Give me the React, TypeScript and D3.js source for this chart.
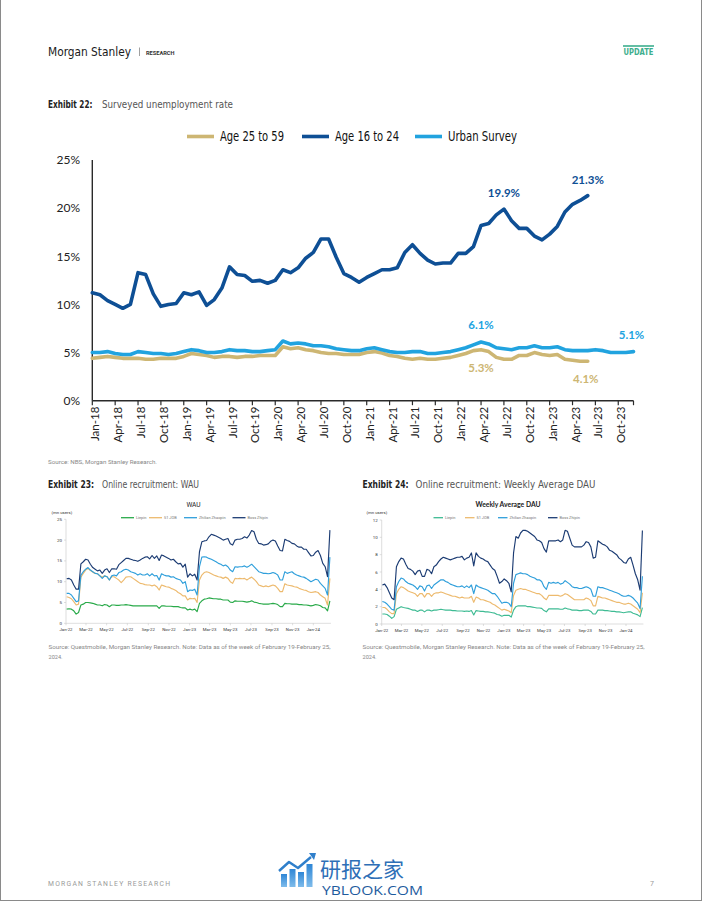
import React from "react";
import * as d3 from "d3";

// ---------- Exhibit 22 data (monthly, %) ----------
const age16to24 = [
  11.2, 11.0, 10.4, 10.0, 9.6, 10.0, 13.3, 13.1, 11.1, 9.8, 10.0, 10.1,
  11.2, 11.0, 11.3, 9.9, 10.5, 11.7, 13.9, 13.1, 13.0, 12.4, 12.5, 12.2,
  12.5, 13.6, 13.3, 13.8, 14.8, 15.4, 16.8, 16.8, 14.9, 13.2, 12.8, 12.3,
  12.8, 13.2, 13.6, 13.6, 13.8, 15.4, 16.2, 15.3, 14.6, 14.2, 14.3, 14.3,
  15.3, 15.3, 16.0, 18.2, 18.4, 19.3, 19.9, 18.7, 17.9, 17.9, 17.1, 16.7,
  17.3, 18.1, 19.6, 20.4, 20.8, 21.3,
];
const age25to59 = [
  4.4, 4.5, 4.6, 4.5, 4.4, 4.4, 4.4, 4.3, 4.3, 4.4, 4.4, 4.4,
  4.6, 4.9, 4.8, 4.7, 4.5, 4.6, 4.6, 4.5, 4.6, 4.6, 4.7, 4.7,
  4.7, 5.6, 5.4, 5.5, 5.3, 5.2, 5.0, 4.9, 4.9, 4.8, 4.8, 4.8,
  5.0, 5.1, 4.95, 4.7, 4.6, 4.4, 4.3, 4.4, 4.3, 4.3, 4.4, 4.5,
  4.7, 4.9, 5.2, 5.3, 5.1, 4.5, 4.3, 4.3, 4.7, 4.7, 5.0, 4.8,
  4.7, 4.8, 4.3, 4.2, 4.1, 4.1,
];
const urbanSurvey = [
  5.0, 5.0, 5.1, 4.9, 4.8, 4.8, 5.1, 5.0, 4.9, 4.9, 4.8, 4.9,
  5.1, 5.3, 5.2, 5.0, 5.0, 5.1, 5.3, 5.2, 5.2, 5.1, 5.1, 5.2,
  5.3, 6.2, 5.9, 6.0, 5.9, 5.7, 5.7, 5.6, 5.4, 5.3, 5.2, 5.2,
  5.4, 5.5, 5.3, 5.1, 5.0, 5.0, 5.1, 5.1, 4.9, 4.9, 5.0, 5.1,
  5.3, 5.5, 5.8, 6.1, 5.9, 5.5, 5.4, 5.3, 5.5, 5.5, 5.7, 5.5,
  5.5, 5.6, 5.3, 5.2, 5.2, 5.2, 5.3, 5.2, 5.0, 5.0, 5.0, 5.1,
];
const yTicksMain = [0, 5, 10, 15, 20, 25];
const mainStart = new Date(2018, 0, 1);
const mainEnd = new Date(2024, 0, 1);

// ---------- Exhibit 23 (WAU, mn users, weekly from 3 Jan 2022) ----------
const wauLiepin = [
  3.4, 3.5, 3.4, 3.0, 2.2, 2.6, 4.4, 4.6, 5.0, 5.0,
  4.9, 4.8, 4.6, 4.4, 4.4, 4.2, 4.5, 4.4, 4.0, 4.4,
  4.4, 4.3, 4.3, 4.4, 4.4, 4.5, 4.4, 4.3, 4.2, 4.2,
  4.2, 4.2, 4.2, 4.2, 4.2, 4.2, 4.2, 4.2, 4.2, 3.6,
  4.2, 4.2, 4.1, 4.1, 4.1, 4.0, 4.0, 4.0, 3.8, 3.7,
  3.7, 3.2, 3.4, 3.2, 3.4, 2.8, 4.8, 5.4, 5.8, 5.9,
  6.1, 6.0, 5.9, 5.9, 5.8, 5.8, 5.6, 5.6, 5.6, 5.1,
  5.0, 5.4, 5.3, 5.3, 5.3, 5.2, 5.1, 5.2, 5.4, 5.1,
  5.0, 4.8, 4.7, 4.6, 4.6, 4.6, 4.7, 4.8, 4.7, 4.5,
  4.0, 4.0, 4.8, 4.7, 4.7, 4.6, 4.6, 4.6, 4.5, 4.5,
  4.4, 4.4, 4.3, 4.2, 4.3, 4.5, 4.4, 4.2, 3.8, 3.7,
  3.0, 5.4,
];
const wau51Job = [
  6.4, 6.2, 5.9, 5.2, 4.4, 4.6, 11.1, 12.0, 12.8, 13.2,
  12.7, 12.3, 12.0, 11.9, 11.4, 11.1, 11.4, 11.2, 10.4, 11.2,
  11.2, 10.8, 10.4, 9.8, 10.4, 11.1, 11.2, 11.2, 10.8, 10.4,
  10.0, 9.6, 9.5, 9.3, 9.2, 9.2, 9.0, 9.2, 8.8, 8.0,
  9.2, 9.0, 8.8, 8.7, 8.4, 8.2, 7.9, 7.4, 7.1, 6.6,
  6.6, 5.6, 6.0, 5.9, 6.0, 5.0, 10.4, 11.6, 12.2, 12.4,
  12.2, 11.9, 11.6, 11.4, 11.2, 11.1, 10.8, 11.1, 10.8, 10.0,
  9.6, 10.8, 10.7, 10.8, 10.7, 10.8, 10.4, 10.8, 11.1, 10.6,
  10.0, 9.2, 9.0, 8.8, 9.0, 8.8, 9.0, 9.2, 9.0, 8.4,
  7.6, 7.6, 9.5, 9.2, 9.1, 9.0, 8.8, 8.7, 8.4, 8.2,
  8.0, 7.9, 7.6, 7.4, 7.5, 7.6, 7.4, 6.8, 6.4, 6.0,
  4.4, 10.8,
];
const wauZhilian = [
  7.2, 7.2, 6.8, 6.0, 5.2, 5.4, 11.6, 12.4, 13.0, 13.4,
  12.8, 12.4, 12.0, 11.9, 11.4, 10.8, 11.4, 11.2, 10.4, 11.4,
  11.6, 11.4, 12.2, 12.4, 12.8, 13.0, 12.8, 12.4, 12.2, 12.0,
  11.6, 11.9, 11.6, 11.6, 11.9, 11.4, 11.9, 11.4, 11.5, 10.4,
  11.9, 11.6, 11.4, 11.4, 11.1, 11.2, 10.8, 10.6, 10.4, 9.6,
  10.0, 7.6, 8.0, 7.9, 8.2, 6.8, 13.6, 15.9, 16.0, 15.9,
  15.6, 15.4, 15.1, 14.8, 14.4, 14.2, 13.8, 14.0, 13.6, 12.8,
  12.4, 13.6, 13.5, 13.6, 13.6, 13.8, 13.5, 13.8, 14.2, 13.6,
  13.0, 12.4, 12.2, 12.0, 12.0, 11.9, 12.0, 12.2, 12.0, 11.6,
  10.4, 10.4, 12.4, 12.0, 12.2, 12.4, 11.9, 11.6, 11.4, 11.2,
  11.1, 10.8, 10.4, 10.0, 10.3, 10.6, 10.4, 9.6, 9.0, 8.4,
  6.8, 15.9,
];
const wauBoss = [
  10.7, 10.8, 10.4, 9.2, 8.2, 8.2, 14.3, 14.8, 15.4, 15.2,
  14.2, 13.4, 13.0, 12.6, 12.8, 12.0, 12.8, 13.1, 12.2, 13.1,
  13.1, 13.0, 14.1, 14.6, 15.1, 15.6, 15.6, 15.4, 15.2, 15.1,
  14.9, 15.2, 15.6, 15.9, 16.0, 15.5, 16.3, 15.6, 16.2, 15.1,
  16.4, 16.2, 15.9, 15.6, 15.2, 15.4, 14.8, 14.3, 14.4, 13.5,
  14.2, 11.1, 11.9, 11.4, 11.8, 10.4, 17.2, 19.6, 19.8, 19.9,
  20.8, 21.4, 21.2, 21.0, 20.7, 20.4, 20.0, 20.2, 20.4, 19.1,
  18.8, 20.0, 20.2, 20.2, 20.4, 20.8, 20.5, 21.2, 22.3, 22.0,
  20.2, 19.2, 19.1, 18.8, 18.9, 19.1, 19.7, 20.0, 19.8, 18.6,
  17.5, 17.4, 20.2, 19.9, 19.7, 19.2, 19.1, 18.6, 18.3, 18.3,
  17.8, 17.8, 17.0, 16.2, 16.3, 17.1, 17.5, 16.3, 14.4, 13.6,
  11.2, 22.4,
];

// ---------- Exhibit 24 (Weekly average DAU, mn users) ----------
const dauLiepin = [
  1.15, 1.15, 1.1, 0.9, 0.65, 0.85, 1.7, 1.85, 2.0, 1.9,
  1.85, 1.8, 1.7, 1.6, 1.6, 1.45, 1.6, 1.6, 1.4, 1.6,
  1.6, 1.5, 1.6, 1.6, 1.65, 1.7, 1.65, 1.6, 1.6, 1.6,
  1.55, 1.55, 1.5, 1.5, 1.5, 1.45, 1.5, 1.45, 1.55, 1.05,
  1.55, 1.5, 1.45, 1.45, 1.4, 1.4, 1.35, 1.3, 1.25, 1.1,
  1.05, 0.9, 1.0, 1.0, 1.0, 0.8, 1.6, 2.0, 2.1, 2.1,
  2.1, 2.1, 2.0, 2.0, 1.95, 1.9, 1.85, 1.85, 1.8, 1.55,
  1.4, 1.75, 1.75, 1.75, 1.75, 1.75, 1.7, 1.7, 1.85, 1.75,
  1.7, 1.6, 1.6, 1.6, 1.55, 1.55, 1.6, 1.6, 1.6, 1.45,
  1.15, 1.15, 1.6, 1.6, 1.6, 1.55, 1.55, 1.5, 1.45, 1.45,
  1.4, 1.4, 1.35, 1.3, 1.35, 1.4, 1.4, 1.25, 1.15, 1.05,
  0.85, 1.9,
];
const dau51Job = [
  1.9, 1.9, 1.7, 1.4, 1.2, 1.2, 3.5, 4.0, 4.3, 4.2,
  4.0, 3.8, 3.7, 3.6, 3.5, 3.2, 3.5, 3.5, 3.1, 3.5,
  3.5, 3.2, 3.5, 3.6, 3.6, 3.7, 3.6, 3.5, 3.4, 3.3,
  3.2, 3.2, 3.1, 3.0, 3.1, 3.0, 3.0, 3.0, 3.2, 2.5,
  3.1, 3.0, 2.8, 2.8, 2.7, 2.6, 2.5, 2.3, 2.2, 2.0,
  1.8, 1.6, 1.7, 1.6, 1.5, 1.3, 3.3, 3.9, 4.0, 4.1,
  4.0, 4.0, 3.9, 3.8, 3.7, 3.6, 3.5, 3.5, 3.3, 3.0,
  2.8, 3.3, 3.3, 3.3, 3.3, 3.3, 3.2, 3.3, 3.5, 3.4,
  3.2, 3.0, 2.8, 2.8, 2.8, 2.8, 2.8, 3.0, 2.9, 2.7,
  2.1, 2.1, 3.2, 3.1, 3.0, 3.0, 2.9, 2.8, 2.7, 2.6,
  2.5, 2.5, 2.4, 2.3, 2.3, 2.4, 2.3, 2.1, 1.9, 1.7,
  1.3, 3.6,
];
const dauZhilian = [
  2.6, 2.5, 2.3, 2.0, 1.7, 1.6, 4.3, 4.9, 5.3, 5.2,
  4.9, 4.7, 4.6, 4.5, 4.3, 4.0, 4.4, 4.3, 3.8, 4.4,
  4.5, 4.1, 4.5, 4.7, 4.9, 5.1, 5.1, 4.9, 4.8, 4.6,
  4.5, 4.4, 4.3, 4.3, 4.4, 4.2, 4.4, 4.2, 4.5, 3.5,
  4.5, 4.3, 4.2, 4.1, 4.0, 3.9, 3.7, 3.5, 3.5, 3.2,
  2.8, 2.4, 2.5, 2.5, 2.4, 2.0, 4.7, 5.7, 5.8, 5.9,
  5.8, 5.8, 5.7, 5.5, 5.4, 5.3, 5.1, 5.1, 4.9, 4.3,
  4.0, 4.8, 4.7, 4.8, 4.7, 4.8, 4.6, 4.7, 5.0, 4.8,
  4.6, 4.3, 4.2, 4.2, 4.1, 4.1, 4.2, 4.3, 4.2, 4.0,
  3.2, 3.2, 4.3, 4.2, 4.2, 4.1, 4.0, 3.9, 3.8, 3.7,
  3.6, 3.5, 3.3, 3.2, 3.2, 3.3, 3.2, 3.0, 2.7, 2.4,
  1.8, 5.5,
];
const dauBoss = [
  4.5, 4.6, 4.2, 3.6, 3.0, 2.8, 6.6, 7.2, 7.6, 7.5,
  6.9, 6.4, 6.3, 6.1, 5.7, 6.1, 6.2, 5.5, 5.5, 6.3,
  6.2, 5.8, 6.6, 6.8, 7.2, 7.5, 7.7, 7.6, 7.5, 7.4,
  7.5, 7.6, 7.7, 7.7, 7.8, 7.4, 7.6, 7.7, 8.2, 6.7,
  8.2, 7.8, 7.6, 7.5, 7.3, 7.2, 6.8, 6.4, 6.2, 5.5,
  4.7, 4.9, 5.2, 5.0, 4.7, 3.7, 8.2, 10.1, 9.9, 10.5,
  10.8, 10.8, 10.7, 10.5, 10.3, 10.1, 9.7, 9.6, 9.4, 8.7,
  8.3, 9.6, 9.6, 9.6, 9.6, 9.7, 9.5, 9.7, 10.8, 10.7,
  9.9, 9.1, 8.9, 8.9, 8.9, 8.9, 9.1, 9.5, 9.4, 8.9,
  7.6, 7.7, 9.6, 9.4, 9.2, 9.1, 8.9, 8.5, 8.4, 8.2,
  8.0, 7.6, 7.4, 7.1, 7.0, 7.5, 7.7, 6.8, 5.8, 5.1,
  3.9, 10.8,
];
const platformNames = ["Liepin", "51 JOB", "Zhilian Zhaopin", "Boss Zhipin"];
const weekStart = new Date(2022, 0, 3);

// ---------- styling ----------
const NAVY = "#0E4F95";
const SKY = "#21A3DF";
const GOLD = "#CDB673";
const NUM_FONT = "Lato, 'Open Sans', sans-serif";
const NARROW = "'Liberation Sans Narrow', 'DejaVu Sans Condensed', Roboto, sans-serif";
const SMALL_FONT = "Roboto, 'Open Sans', sans-serif";

const fmtMonth = d3.timeFormat("%b-%y");

function MainChart() {
  const months = d3.timeMonth.range(mainStart, mainEnd);
  const x = d3.scaleLinear().domain([0, months.length - 1]).range([92.3, 633.5]);
  const y = d3.scaleLinear().domain([0, 25]).range([400.7, 160]);
  const line = d3
    .line<number>()
    .x((_, i) => x(i))
    .y((d) => y(d))
    .curve(d3.curveLinear);
  const tickIdx = months.map((_, i) => i).filter((i) => i % 3 === 0);
  const last = months.length - 1;

  const series = [
    { data: age25to59, color: GOLD },
    { data: urbanSurvey, color: SKY },
    { data: age16to24, color: NAVY },
  ];

  const labels = [
    { text: "19.9%", i: 54, v: age16to24[54], dy: -12, color: NAVY },
    { text: "21.3%", i: 65, v: age16to24[65], dy: -12, color: NAVY },
    { text: "6.1%", i: 51, v: urbanSurvey[51], dy: -13, color: SKY },
    { text: "5.1%", i: 71, v: urbanSurvey[71], dy: -13, dx: -2, color: SKY },
    { text: "5.3%", i: 51, v: age25to59[51], dy: 22, color: GOLD },
    { text: "4.1%", i: 65, v: age25to59[65], dy: 22, dx: -2, color: GOLD },
  ];

  const legend = [
    { name: "Age 25 to 59", color: GOLD, x: 187, w: 64 },
    { name: "Age 16 to 24", color: NAVY, x: 302, w: 64 },
    { name: "Urban Survey", color: SKY, x: 415, w: 69 },
  ];

  return (
    <g>
      {legend.map((l) => (
        <g key={l.name}>
          <line x1={l.x} x2={l.x + 27} y1={136.5} y2={136.5} stroke={l.color} strokeWidth={3.6} />
          <text
            x={l.x + 33}
            y={141}
            fontFamily={NARROW}
            fontSize={13.5}
            fill="#111"
            textLength={l.w}
            lengthAdjust="spacingAndGlyphs"
          >
            {l.name}
          </text>
        </g>
      ))}
      {yTicksMain.map((t) => (
        <text key={t} x={80} y={y(t)} dy="0.36em" textAnchor="end" fontFamily={NUM_FONT} fontSize={12} fill="#222">
          {t}%
        </text>
      ))}
      <line x1={x(0)} x2={x(0)} y1={y(25)} y2={y(0)} stroke="#2a2a2a" strokeWidth={1.4} />
      <line x1={x(0)} x2={x(last)} y1={y(0)} y2={y(0)} stroke="#2a2a2a" strokeWidth={1.4} />
      {[...tickIdx, last].map((i) => (
        <line key={"t" + i} x1={x(i)} x2={x(i)} y1={y(0)} y2={y(0) + 4.5} stroke="#2a2a2a" strokeWidth={1.2} />
      ))}
      {tickIdx.map((i) => (
        <text
          key={"l" + i}
          transform={`translate(${x(i) + 3},${y(0) + 6}) rotate(-90)`}
          dy="0.35em"
          textAnchor="end"
          fontFamily={NUM_FONT}
          fontSize={11.5}
          fill="#222"
        >
          {fmtMonth(months[i])}
        </text>
      ))}
      {series.map((s, k) => (
        <path
          key={k}
          d={line(s.data) || ""}
          fill="none"
          stroke={s.color}
          strokeWidth={3.6}
          strokeLinejoin="round"
          strokeLinecap="round"
        />
      ))}
      {labels.map((l) => (
        <text
          key={l.text + l.i}
          x={x(l.i) + (l.dx || 0)}
          y={y(l.v) + l.dy}
          textAnchor="middle"
          fontFamily={NUM_FONT}
          fontWeight={700}
          fontSize={11.5}
          fill={l.color}
        >
          {l.text}
        </text>
      ))}
    </g>
  );
}

type SmallCfg = {
  x0: number;
  x1: number;
  yT: number;
  yB: number;
  yMax: number;
  yStep: number;
  title: string;
  titleX: number;
  titleBold: boolean;
  series: number[][];
  colors: string[];
  legendX: number[];
  legendLen: number;
  unitX: number;
};

function SmallChart({ c }: { c: SmallCfg }) {
  const x = d3.scaleTime().domain([new Date(2022, 0, 1), new Date(2024, 0, 1)]).range([c.x0, c.x1]);
  const y = d3.scaleLinear().domain([0, c.yMax]).range([c.yB, c.yT]);
  const n = c.series[0].length;
  const dates = d3.range(n).map((i) => d3.timeDay.offset(weekStart, 7 * i));
  const line = d3
    .line<number>()
    .x((_, i) => x(dates[i]))
    .y((d) => y(d));
  const ticks = d3.timeMonth.every(2)!.range(new Date(2022, 0, 1), new Date(2024, 0, 2));
  const yTicks = d3.range(0, c.yMax + 0.001, c.yStep);
  const xEnd = x(dates[n - 1]) + 1;
  return (
    <g>
      <text x={c.titleX} y={506.5} textAnchor="middle" fontFamily={c.titleBold ? NUM_FONT : SMALL_FONT} fontWeight={c.titleBold ? 700 : 400} fontSize={c.titleBold ? 6.8 : 6.6} fill="#222">
        {c.title}
      </text>
      <text x={c.unitX} y={513.8} fontFamily={SMALL_FONT} fontSize={4.3} fill="#333">
        (mn users)
      </text>
      {platformNames.map((name, k) => (
        <g key={name}>
          <line x1={c.legendX[k]} x2={c.legendX[k] + c.legendLen} y1={517.7} y2={517.7} stroke={c.colors[k]} strokeWidth={1.3} />
          <text x={c.legendX[k] + c.legendLen + 2} y={519.1} fontFamily={SMALL_FONT} fontSize={3.9} fill="#777">
            {name}
          </text>
        </g>
      ))}
      <line x1={c.x0} x2={c.x0} y1={c.yT} y2={c.yB} stroke="#c8c8c8" strokeWidth={0.6} />
      <line x1={c.x0} x2={xEnd} y1={c.yB} y2={c.yB} stroke="#c8c8c8" strokeWidth={0.6} />
      {yTicks.map((t) => (
        <g key={t}>
          <line x1={c.x0 - 2} x2={c.x0} y1={y(t)} y2={y(t)} stroke="#c8c8c8" strokeWidth={0.6} />
          <text x={c.x0 - 4} y={y(t)} dy="0.35em" textAnchor="end" fontFamily={SMALL_FONT} fontSize={4.4} fill="#333">
            {t}
          </text>
        </g>
      ))}
      {ticks.map((t) => (
        <g key={+t}>
          <line x1={x(t)} x2={x(t)} y1={c.yB} y2={c.yB + 2} stroke="#c8c8c8" strokeWidth={0.6} />
          <text x={x(t)} y={c.yB + 8} textAnchor="middle" fontFamily={SMALL_FONT} fontSize={4.3} fill="#333">
            {fmtMonth(t)}
          </text>
        </g>
      ))}
      {c.series.map((s, k) => (
        <path key={k} d={line(s) || ""} fill="none" stroke={c.colors[k]} strokeWidth={1.15} strokeLinejoin="round" />
      ))}
    </g>
  );
}

function Logo() {
  const bars = [
    { x: 281, top: 874 },
    { x: 289.5, top: 869 },
    { x: 298, top: 872 },
    { x: 306.5, top: 864 },
  ];
  return (
    <g>
      <defs>
        <linearGradient id="barg" x1="0" x2="0" y1="0" y2="1">
          <stop offset="0" stopColor="#2E86D6" />
          <stop offset="1" stopColor="#7FBCEB" />
        </linearGradient>
      </defs>
      {bars.map((b) => (
        <rect key={b.x} x={b.x} y={b.top} width={6} height={887 - b.top} fill="url(#barg)" />
      ))}
      <polyline points="279,871 289,862 298,868 311,857" fill="none" stroke="#2F7FCB" strokeWidth={2.4} strokeLinejoin="round" />
      <polygon points="309,853 316,853 314,860" fill="#2F7FCB" />
      <text x={320} y={877} fontFamily="'Noto Sans CJK SC', sans-serif" fontSize={21} fill="#2E6FB7">
        研报之家
      </text>
      <text x={322} y={895} fontFamily="'Open Sans', 'DejaVu Sans', sans-serif" fontSize={12.5} fill="#1E5C9E" textLength={101} lengthAdjust="spacingAndGlyphs">
        YBLOOK.COM
      </text>
    </g>
  );
}

export default function App() {
  const left: SmallCfg = {
    x0: 66,
    x1: 313.3,
    yT: 519.3,
    yB: 623.3,
    yMax: 25,
    yStep: 5,
    title: "WAU",
    titleX: 193.5,
    titleBold: false,
    series: [wauLiepin, wau51Job, wauZhilian, wauBoss],
    colors: ["#2AAA4A", "#EDBA6E", "#2F9FDB", "#1C3C73"],
    legendX: [121, 149, 184, 232.5],
    legendLen: 13,
    unitX: 51.5,
  };
  const right: SmallCfg = {
    x0: 381.7,
    x1: 626,
    yT: 520,
    yB: 624,
    yMax: 12,
    yStep: 2,
    title: "Weekly Average DAU",
    titleX: 508,
    titleBold: true,
    series: [dauLiepin, dau51Job, dauZhilian, dauBoss],
    colors: ["#3EBB93", "#EDBA6E", "#2F9FDB", "#1C3C73"],
    legendX: [433.5, 465, 498, 548],
    legendLen: 9.5,
    unitX: 366.5,
  };
  const src2 = "Source: Questmobile, Morgan Stanley Research. Note: Data as of the week of February 19-February 25,";
  return (
    <svg
      width={702}
      height={907}
      viewBox="0 0 702 907"
      style={{ position: "absolute", left: 0, top: 0, background: "#fff" }}
    >
      <rect x={0} y={0} width={702} height={907} fill="#fff" />
      <rect x={0.5} y={-2} width={701} height={902.5} fill="none" stroke="#8a8a8a" strokeWidth={1} />

      {/* header */}
      <text x={48} y={56} fontFamily={NARROW} fontSize={13} fill="#1a1a1a" textLength={83} lengthAdjust="spacingAndGlyphs">
        Morgan Stanley
      </text>
      <line x1={139.5} x2={139.5} y1={47.5} y2={56} stroke="#777" strokeWidth={0.7} />
      <text x={146} y={54.5} fontFamily={SMALL_FONT} fontWeight={700} fontSize={5} fill="#333" textLength={28.5} lengthAdjust="spacingAndGlyphs">
        RESEARCH
      </text>
      <line x1={623} x2={654} y1={46} y2={46} stroke="#3DAE8D" strokeWidth={1.6} />
      <text x={623.5} y={55} fontFamily={NARROW} fontWeight={700} fontSize={8} fill="#3DAE8D" textLength={30} lengthAdjust="spacingAndGlyphs">
        UPDATE
      </text>

      {/* exhibit 22 */}
      <text x={48} y={108} fontFamily={NARROW} fontWeight={700} fontSize={10.5} fill="#222" textLength={44.5} lengthAdjust="spacingAndGlyphs">
        Exhibit 22:
      </text>
      <text x={102} y={108} fontFamily={NARROW} fontSize={10.5} fill="#555" textLength={131} lengthAdjust="spacingAndGlyphs">
        Surveyed unemployment rate
      </text>
      <MainChart />
      <text x={48} y={463.5} fontFamily={SMALL_FONT} fontSize={5.6} fill="#888" textLength={109} lengthAdjust="spacingAndGlyphs">
        Source: NBS, Morgan Stanley Research.
      </text>

      {/* exhibits 23 / 24 */}
      <text x={48} y={488} fontFamily={NARROW} fontWeight={700} fontSize={10.5} fill="#222" textLength={46} lengthAdjust="spacingAndGlyphs">
        Exhibit 23:
      </text>
      <text x={102} y={488} fontFamily={NARROW} fontSize={10.5} fill="#555" textLength={97} lengthAdjust="spacingAndGlyphs">
        Online recruitment: WAU
      </text>
      <text x={362.5} y={488} fontFamily={NARROW} fontWeight={700} fontSize={10.5} fill="#222" textLength={46} lengthAdjust="spacingAndGlyphs">
        Exhibit 24:
      </text>
      <text x={415.5} y={488} fontFamily={NARROW} fontSize={10.5} fill="#555" textLength={180} lengthAdjust="spacingAndGlyphs">
        Online recruitment: Weekly Average DAU
      </text>
      <SmallChart c={left} />
      <SmallChart c={right} />
      {[48.5, 362.5].map((sx) => (
        <g key={sx}>
          <text x={sx} y={648.5} fontFamily={SMALL_FONT} fontSize={5.6} fill="#888" textLength={282} lengthAdjust="spacingAndGlyphs">
            {src2}
          </text>
          <text x={sx} y={658.5} fontFamily={SMALL_FONT} fontSize={5.6} fill="#888">
            2024.
          </text>
        </g>
      ))}

      {/* footer */}
      <text x={48} y={885.5} fontFamily={SMALL_FONT} fontSize={6.8} fill="#9a9a9a" textLength={122} lengthAdjust="spacing">
        MORGAN STANLEY RESEARCH
      </text>
      <text x={650} y={885.5} fontFamily={SMALL_FONT} fontSize={7} fill="#9a9a9a">
        7
      </text>
      <Logo />
    </svg>
  );
}
